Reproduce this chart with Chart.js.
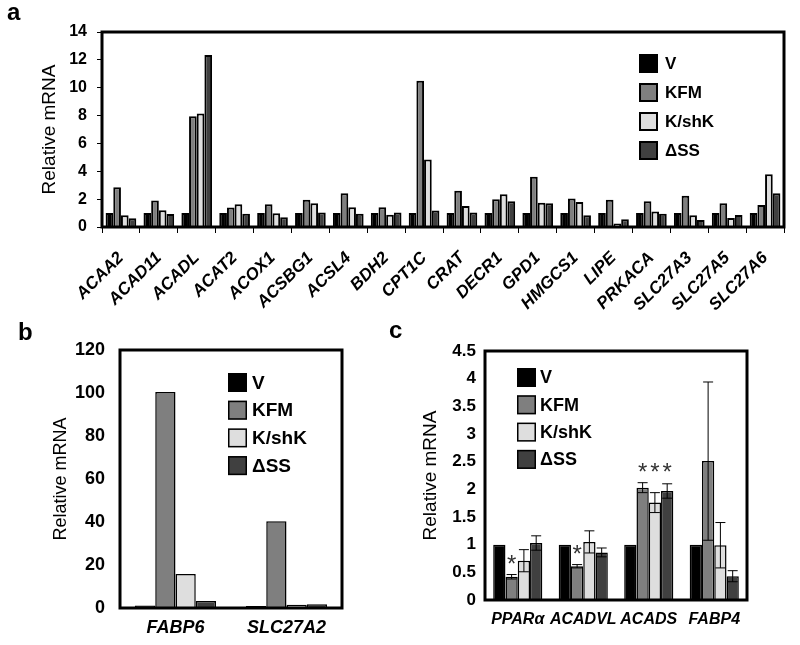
<!DOCTYPE html>
<html>
<head>
<meta charset="utf-8">
<script src="https://cdn.jsdelivr.net/npm/chart.js@4.4.0/dist/chart.umd.min.js"></script>
<style>
  body { margin: 0; background: #fff; }
  canvas { position: absolute; }
</style>
</head>
<body>
<canvas id="chartA" width="800" height="330" style="left:0;top:0"></canvas>
<canvas id="chartB" width="400" height="335" style="left:0;top:310px"></canvas>
<canvas id="chartC" width="420" height="335" style="left:380px;top:310px"></canvas>
<script>
const FONT = "'Liberation Sans', Arial, sans-serif";
const seriesNames = ['V', 'KFM', 'K/shK', 'ΔSS'];
const seriesColors = ['#000000', '#7f7f7f', '#dedede', '#404040'];

// panel a
const genesA = ['ACAA2', 'ACAD11', 'ACADL', 'ACAT2', 'ACOX1', 'ACSBG1', 'ACSL4', 'BDH2', 'CPT1C',
  'CRAT', 'DECR1', 'GPD1', 'HMGCS1', 'LIPE', 'PRKACA', 'SLC27A3', 'SLC27A5', 'SLC27A6'];
const vA   = [1, 1, 1, 1, 1, 1, 1, 1, 1, 1, 1, 1, 1, 1, 1, 1, 1, 1];
const kfmA = [2.85, 1.9, 7.95, 1.4, 1.64, 1.95, 2.42, 1.42, 10.5, 2.6, 2.0, 3.6, 2.05, 1.95, 1.85, 2.25, 1.7, 1.58];
const shkA = [0.85, 1.2, 8.15, 1.64, 0.98, 1.7, 1.42, 0.88, 4.85, 1.5, 2.35, 1.75, 1.8, 0.25, 1.12, 0.85, 0.65, 3.78];
const ssA  = [0.62, 0.93, 12.35, 0.95, 0.7, 1.05, 0.95, 1.05, 1.18, 1.04, 1.85, 1.7, 0.85, 0.55, 0.95, 0.5, 0.87, 2.42];

// panel b
const genesB = ['FABP6', 'SLC27A2'];
const vB   = [1.2, 0.9];
const kfmB = [100.5, 40.3];
const shkB = [15.8, 1.5];
const ssB  = [3.3, 1.8];

// panel c
const genesC = ['PPARα', 'ACADVL', 'ACADS', 'FABP4'];
const vC   = [1, 1, 1, 1];
const kfmC = [0.42, 0.61, 2.03, 2.51];
const shkC = [0.71, 1.05, 1.76, 0.99];
const ssC  = [1.03, 0.86, 1.97, 0.43];
const errV   = [0, 0, 0, 0];
const errKfm = [0.04, 0.03, 0.09, 1.43];
const errShk = [0.2, 0.2, 0.18, 0.41];
const errSs  = [0.13, 0.08, 0.13, 0.1];
const sigKfm = [true, true, true, false];
const sigShk = [false, false, true, false];
const sigSs  = [false, false, true, false];

const framePlugin = {
  id: 'frame',
  afterDatasetsDraw(chart, args, o) {
    const { ctx, chartArea: a } = chart;
    ctx.save();
    ctx.strokeStyle = '#000';
    ctx.lineWidth = o.width;
    ctx.strokeRect(a.left, a.top, a.right - a.left, a.bottom - a.top);
    ctx.restore();
  }
};

const boxLegend = {
  id: 'boxLegend',
  afterDraw(chart, args, o) {
    const ctx = chart.ctx;
    ctx.save();
    ctx.font = `bold ${o.size}px ${FONT}`;
    ctx.textBaseline = 'middle';
    chart.data.datasets.forEach((ds, i) => {
      const y = o.y + i * o.gap;
      ctx.fillStyle = ds.backgroundColor;
      ctx.fillRect(o.x, y, o.box, o.box);
      ctx.lineWidth = o.line;
      ctx.strokeStyle = '#000';
      ctx.strokeRect(o.x + o.line / 2, y + o.line / 2, o.box - o.line, o.box - o.line);
      ctx.fillStyle = '#000';
      ctx.fillText(ds.label, o.x + o.box + o.textGap, y + o.box / 2 + 1);
    });
    ctx.restore();
  }
};

const panelTag = {
  id: 'panelTag',
  afterDraw(chart, args, o) {
    const ctx = chart.ctx;
    ctx.save();
    ctx.font = `bold 24px ${FONT}`;
    ctx.fillStyle = '#000';
    ctx.fillText(o.text, o.x, o.y);
    ctx.restore();
  }
};

// error bars + asterisks for panel c
const errorBars = {
  id: 'errorBars',
  afterDatasetsDraw(chart, args, o) {
    const { ctx, scales: { y } } = chart;
    const sets = chart.data.datasets;
    ctx.save();
    sets.forEach((ds, i) => {
      const meta = chart.getDatasetMeta(i);
      ds.data.forEach((val, j) => {
        const err = o.errors[i][j];
        if (err <= 0) return;
        const x = meta.data[j].x;
        const top = y.getPixelForValue(val + err);
        const bot = y.getPixelForValue(val - err);
        ctx.strokeStyle = '#000';
        ctx.lineWidth = 1;
        ctx.beginPath();
        ctx.moveTo(x, top); ctx.lineTo(x, bot);
        ctx.moveTo(x - 5, top); ctx.lineTo(x + 5, top);
        ctx.moveTo(x - 5, bot); ctx.lineTo(x + 5, bot);
        ctx.stroke();
      });
    });
    // asterisks sit at one height per gene, above the highest marked error bar
    chart.data.labels.forEach((lab, j) => {
      let top = Infinity;
      sets.forEach((ds, i) => {
        if (o.sig[i] && o.sig[i][j]) top = Math.min(top, y.getPixelForValue(ds.data[j] + o.errors[i][j]));
      });
      if (top === Infinity) return;
      ctx.fillStyle = '#333';
      ctx.font = `24px ${FONT}`;
      ctx.textAlign = 'center';
      ctx.textBaseline = 'alphabetic';
      sets.forEach((ds, i) => {
        if (o.sig[i] && o.sig[i][j]) ctx.fillText('*', chart.getDatasetMeta(i).data[j].x, top - 3);
      });
    });
    ctx.restore();
  }
};

function makeDatasets(series, line, group) {
  return series.map((data, i) => ({
    label: seriesNames[i],
    data,
    backgroundColor: seriesColors[i],
    borderColor: '#000',
    borderWidth: line,
    borderSkipped: 'start',
    categoryPercentage: group,
    barPercentage: 1
  }));
}

function yTitle(size) {
  return { display: true, text: 'Relative mRNA', color: '#000', font: { family: FONT, size }, padding: 0 };
}

new Chart(document.getElementById('chartA'), {
  type: 'bar',
  data: { labels: genesA, datasets: makeDatasets([vA, kfmA, shkA, ssA], 2, 0.81) },
  options: {
    responsive: false,
    animation: false,
    layout: { padding: { left: 38, right: 16, top: 32, bottom: 0 } },
    scales: {
      x: {
        grid: { display: true, drawOnChartArea: false, offset: true, tickLength: 6, color: '#000' },
        border: { display: false },
        ticks: {
          color: '#000', font: { family: FONT, size: 17, weight: 'bold', style: 'italic' },
          minRotation: 45, maxRotation: 45, autoSkip: false, padding: 15
        },
        afterFit: s => { s.height = 103; }
      },
      y: {
        min: 0, max: 14,
        grid: { drawOnChartArea: false, tickLength: 5, color: '#000' },
        border: { display: false },
        ticks: { stepSize: 2, padding: 10, color: '#000', font: { family: FONT, size: 16, weight: 'bold' } },
        title: yTitle(19),
        afterFit: s => { s.width = 64; }
      }
    },
    plugins: {
      legend: { display: false },
      tooltip: { enabled: false },
      frame: { width: 3 },
      boxLegend: { x: 639, y: 54, gap: 29, box: 19, line: 2, size: 17, textGap: 7 },
      panelTag: { text: 'a', x: 7, y: 20 }
    }
  },
  plugins: [framePlugin, boxLegend, panelTag]
});

new Chart(document.getElementById('chartB'), {
  type: 'bar',
  data: { labels: genesB, datasets: makeDatasets([vB, kfmB, shkB, ssB], 1.5, 0.73) },
  options: {
    responsive: false,
    animation: false,
    layout: { padding: { left: 50, right: 58, top: 40, bottom: 0 } },
    scales: {
      x: {
        grid: { display: false, drawTicks: false },
        border: { display: false },
        ticks: { color: '#000', font: { family: FONT, size: 18, weight: 'bold', style: 'italic' }, padding: 9 },
        afterFit: s => { s.height = 37; }
      },
      y: {
        min: 0, max: 120,
        grid: { display: false, drawTicks: false },
        border: { display: false },
        ticks: { stepSize: 20, padding: 15, color: '#000', font: { family: FONT, size: 18, weight: 'bold' } },
        title: yTitle(18),
        afterFit: s => { s.width = 70; }
      }
    },
    plugins: {
      legend: { display: false },
      tooltip: { enabled: false },
      frame: { width: 3 },
      boxLegend: { x: 228, y: 63, gap: 27.7, box: 19, line: 1.5, size: 19, textGap: 5 },
      panelTag: { text: 'b', x: 18, y: 30 }
    }
  },
  plugins: [framePlugin, boxLegend, panelTag]
});

new Chart(document.getElementById('chartC'), {
  type: 'bar',
  data: { labels: genesC, datasets: makeDatasets([vC, kfmC, shkC, ssC], 1.5, 0.75) },
  options: {
    responsive: false,
    animation: false,
    layout: { padding: { left: 39, right: 53, top: 41, bottom: 0 } },
    scales: {
      x: {
        grid: { display: false, drawTicks: false },
        border: { display: false },
        ticks: {
          color: '#000', font: { family: FONT, size: 16, weight: 'bold', style: 'italic' },
          padding: 10, autoSkip: false, minRotation: 0, maxRotation: 0
        },
        afterFit: s => { s.height = 45; }
      },
      y: {
        min: 0, max: 4.5,
        grid: { display: false, drawTicks: false },
        border: { display: false },
        ticks: {
          stepSize: 0.5, padding: 9, color: '#000', font: { family: FONT, size: 17, weight: 'bold' },
          callback: v => String(v)
        },
        title: yTitle(19),
        afterFit: s => { s.width = 66; }
      }
    },
    plugins: {
      legend: { display: false },
      tooltip: { enabled: false },
      frame: { width: 3 },
      boxLegend: { x: 137, y: 58, gap: 27.3, box: 19, line: 1.5, size: 18, textGap: 4 },
      panelTag: { text: 'c', x: 9, y: 28 },
      errorBars: { errors: [errV, errKfm, errShk, errSs], sig: [null, sigKfm, sigShk, sigSs] }
    }
  },
  plugins: [framePlugin, errorBars, boxLegend, panelTag]
});
</script>
</body>
</html>
